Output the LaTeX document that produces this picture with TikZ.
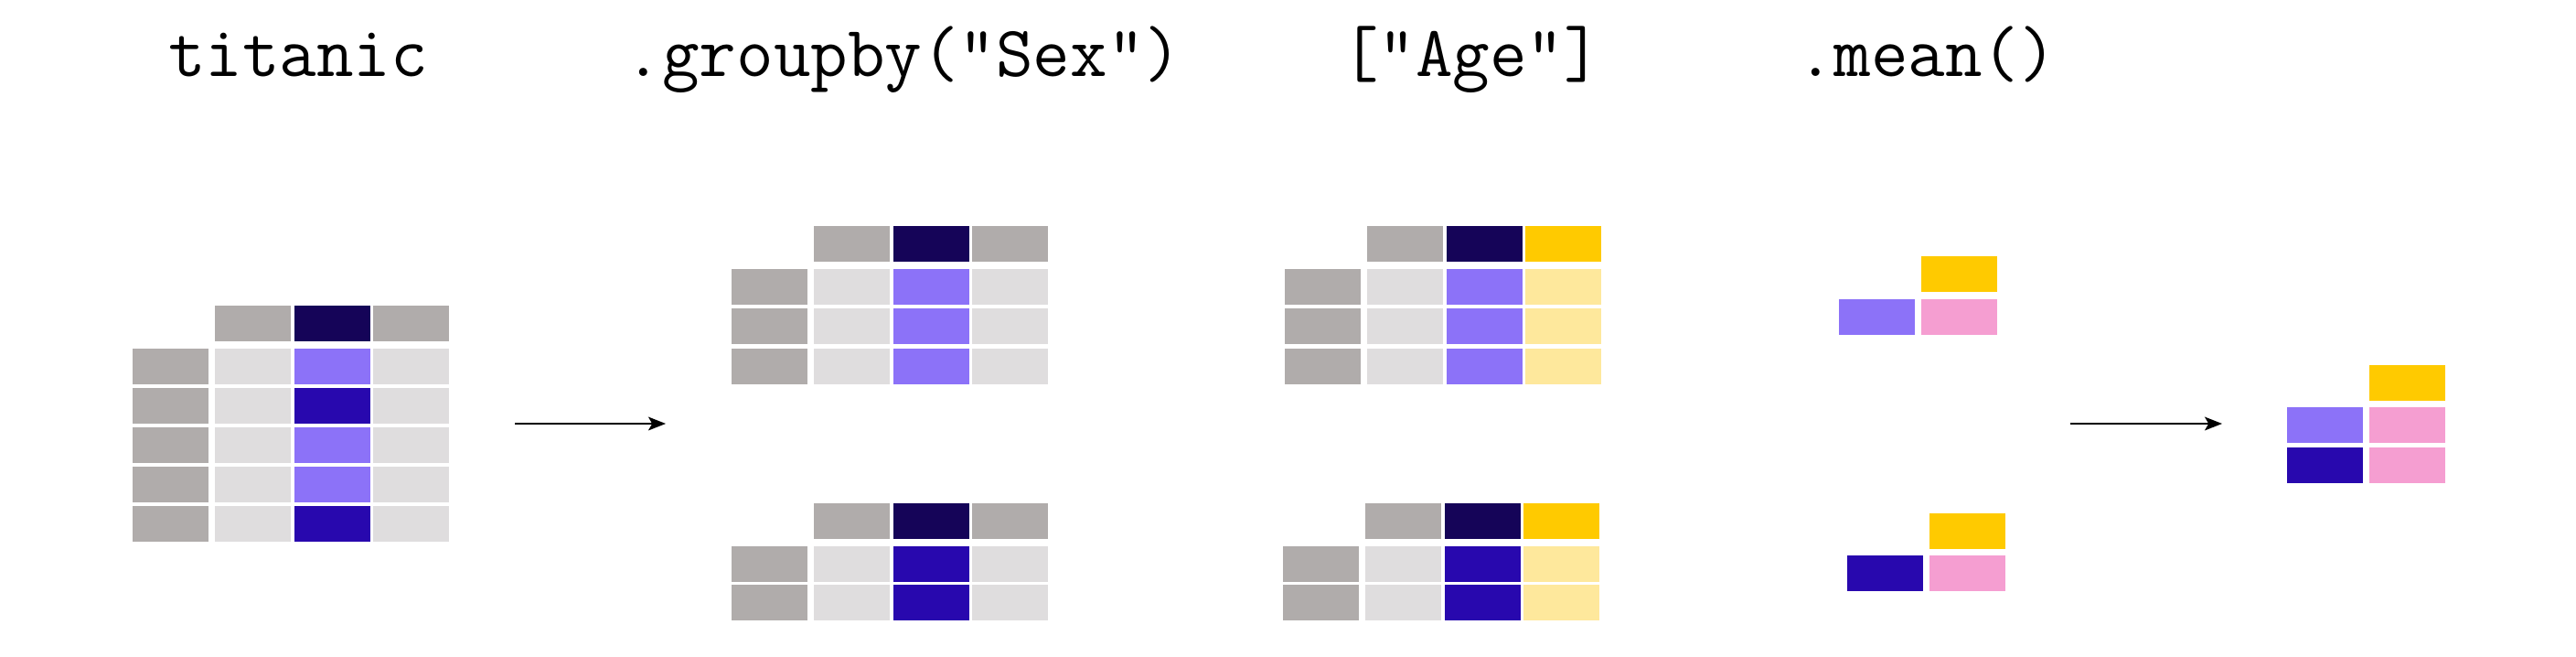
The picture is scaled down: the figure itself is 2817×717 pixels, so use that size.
\documentclass[tikz,border=0pt]{standalone}
\usepackage{fontspec}
\usepackage{tikz}
\usetikzlibrary{arrows.meta}
\definecolor{idxgray}{HTML}{B0ACAB}
\definecolor{datagray}{HTML}{DFDDDE}
\definecolor{navy}{HTML}{150458}
\definecolor{lilac}{HTML}{8C72F8}
\definecolor{indigo}{HTML}{2808AE}
\definecolor{gold}{HTML}{FFCA00}
\definecolor{paleyellow}{HTML}{FEE89C}
\definecolor{rose}{HTML}{F59ED1}
% one cell: top-left x, top-left y, colour (sizes in px of the figure)
\newcommand{\cell}[3]{\fill[#3] ( #1 , #2 ) rectangle ++( 83 , 39 );}
% header row of a frame: left x of index column, y, colours of columns 1..3
\newcommand{\headrow}[5]{\cell{#1+90}{#2}{#3} \cell{#1+177}{#2}{#4} \cell{#1+263}{#2}{#5}}
% data row: index cell + three value cells
\newcommand{\datarow}[5]{\cell{#1}{#2}{idxgray} \cell{#1+90}{#2}{#3} \cell{#1+177}{#2}{#4} \cell{#1+263}{#2}{#5}}

\begin{document}
\begin{tikzpicture}[x=0.01cm, y=-0.01cm,
    code/.style={font=\ttfamily\fontsize{22.4}{26}\selectfont, anchor=base, inner sep=0pt},
    flow/.style={-{Stealth[length=5.4pt,width=4.2pt,inset=1.2pt]}, line width=0.6pt}]
    \useasboundingbox (0,0) rectangle (2817,717);

    % method chain
    \node[code] (titanic) at (326,83) {titanic};
    \node[code] (groupby) at (988,83) {.groupby("Sex")};
    \node[code] (select) at (1609,83) {["Age"]};
    \node[code] (mean) at (2107,83) {.mean()};

    % titanic frame
    \headrow{145}{334}{idxgray}{navy}{idxgray}
    \datarow{145}{381}{datagray}{lilac}{datagray}
    \datarow{145}{424}{datagray}{indigo}{datagray}
    \datarow{145}{467}{datagray}{lilac}{datagray}
    \datarow{145}{510}{datagray}{lilac}{datagray}
    \datarow{145}{553}{datagray}{indigo}{datagray}

    % groups
    \headrow{800}{247}{idxgray}{navy}{idxgray}
    \datarow{800}{294}{datagray}{lilac}{datagray}
    \datarow{800}{337}{datagray}{lilac}{datagray}
    \datarow{800}{381}{datagray}{lilac}{datagray}

    \headrow{800}{550}{idxgray}{navy}{idxgray}
    \datarow{800}{597}{datagray}{indigo}{datagray}
    \datarow{800}{639}{datagray}{indigo}{datagray}

    % column Age in each group
    \headrow{1405}{247}{idxgray}{navy}{gold}
    \datarow{1405}{294}{datagray}{lilac}{paleyellow}
    \datarow{1405}{337}{datagray}{lilac}{paleyellow}
    \datarow{1405}{381}{datagray}{lilac}{paleyellow}

    \headrow{1403}{550}{idxgray}{navy}{gold}
    \datarow{1403}{597}{datagray}{indigo}{paleyellow}
    \datarow{1403}{639}{datagray}{indigo}{paleyellow}

    % mean per group
    \cell{2101}{280}{gold}
    \cell{2011}{327}{lilac}
    \cell{2101}{327}{rose}

    \cell{2110}{561}{gold}
    \cell{2020}{607}{indigo}
    \cell{2110}{607}{rose}

    % result
    \cell{2591}{399}{gold}
    \cell{2501}{445}{lilac}
    \cell{2591}{445}{rose}
    \cell{2501}{489}{indigo}
    \cell{2591}{489}{rose}

    \coordinate (split-in) at (563,463);
    \coordinate (split-out) at (728,463);
    \coordinate (comb-in) at (2264,463);
    \coordinate (comb-out) at (2430,463);
    \draw[flow] (split-in) -- (split-out);
    \draw[flow] (comb-in) -- (comb-out);

\end{tikzpicture}
\end{document}
